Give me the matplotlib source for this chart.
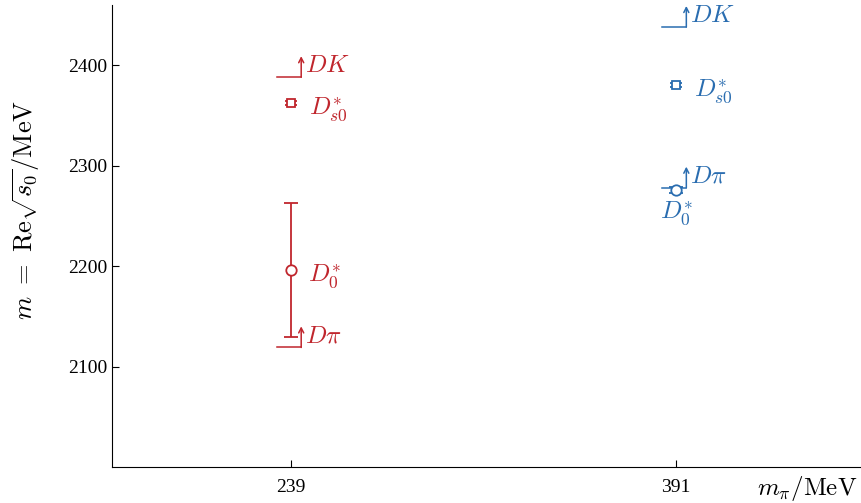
#!/usr/bin/env python3
import matplotlib
matplotlib.use('Agg')
import matplotlib.pyplot as plt

plt.rcParams['mathtext.fontset'] = 'cm'
plt.rcParams['font.family'] = ['Liberation Serif', 'DejaVu Serif']

mpi = [239, 391]
colors = ['#c0262d', '#2a6db0']

# masses (MeV) and errors
d0_mass = [2196, 2276]
d0_err = [67, 3]
ds0_mass = [2362, 2380]
ds0_err = [2, 2]

# thresholds
dpi_thr = [2119, 2278]
dk_thr = [2388, 2438]


def threshold(ax, x, y, label, color):
    ax.plot([x - 5.5, x + 4], [y, y], color=color, lw=1.1)
    ax.annotate('', xy=(x + 4, y + 21), xytext=(x + 4, y),
                arrowprops=dict(arrowstyle='->,head_length=0.35,head_width=0.18',
                                color=color, lw=1.1, shrinkA=0, shrinkB=0))
    ax.annotate(label, xy=(x + 4, y), xytext=(3, 0), textcoords='offset points',
                color=color, fontsize=18, va='bottom', ha='left')


def main():
    fig = plt.figure(figsize=(8.61, 5.03), dpi=100)
    ax = fig.add_axes([0.130, 0.0716, 0.869, 0.9185])

    for i, x in enumerate(mpi):
        c = colors[i]
        ax.errorbar([x], [d0_mass[i]], yerr=[d0_err[i]], fmt='o', color=c,
                    mfc='white', mec=c, ms=7.5, mew=1.3, capsize=5, elinewidth=1.3,
                    capthick=1.3)
        ax.errorbar([x], [ds0_mass[i]], yerr=[ds0_err[i]], fmt='s', color=c,
                    mfc='white', mec=c, ms=5.5, mew=1.3, capsize=4, elinewidth=1.3,
                    capthick=1.3)
        threshold(ax, x, dpi_thr[i], r'$D\pi$', c)
        threshold(ax, x, dk_thr[i], r'$DK$', c)
        ax.annotate(r'$D_{s0}^{*}$', xy=(x, ds0_mass[i]), xytext=(13, -4),
                    textcoords='offset points', color=c, fontsize=18,
                    va='center', ha='left')

    ax.annotate(r'$D_{0}^{*}$', xy=(mpi[0], d0_mass[0]), xytext=(12, -4),
                textcoords='offset points', color=colors[0], fontsize=18,
                va='center', ha='left')
    ax.annotate(r'$D_{0}^{*}$', xy=(mpi[1], d0_mass[1]), xytext=(0, -17),
                textcoords='offset points', color=colors[1], fontsize=18,
                va='center', ha='center')

    ax.set_xlim(168.3, 463.6)
    ax.set_ylim(2000, 2460)
    ax.set_xticks(mpi)
    ax.set_yticks([2100, 2200, 2300, 2400])
    ax.tick_params(direction='in', labelsize=14, length=5)
    ax.tick_params(axis='x', pad=9)
    ax.spines['top'].set_visible(False)
    ax.spines['right'].set_visible(False)

    ax.set_ylabel(r'$m\ =\ \mathrm{Re}\sqrt{s_0}/\mathrm{MeV}$', fontsize=19)
    ax.yaxis.set_label_coords(-0.094, 0.556)
    ax.set_xlabel(r'$m_\pi/\mathrm{MeV}$', fontsize=18)
    ax.xaxis.set_label_coords(0.996, -0.016)
    ax.xaxis.label.set_horizontalalignment('right')

    plt.savefig('out.png', dpi=100)


if __name__ == "__main__":
    main()
